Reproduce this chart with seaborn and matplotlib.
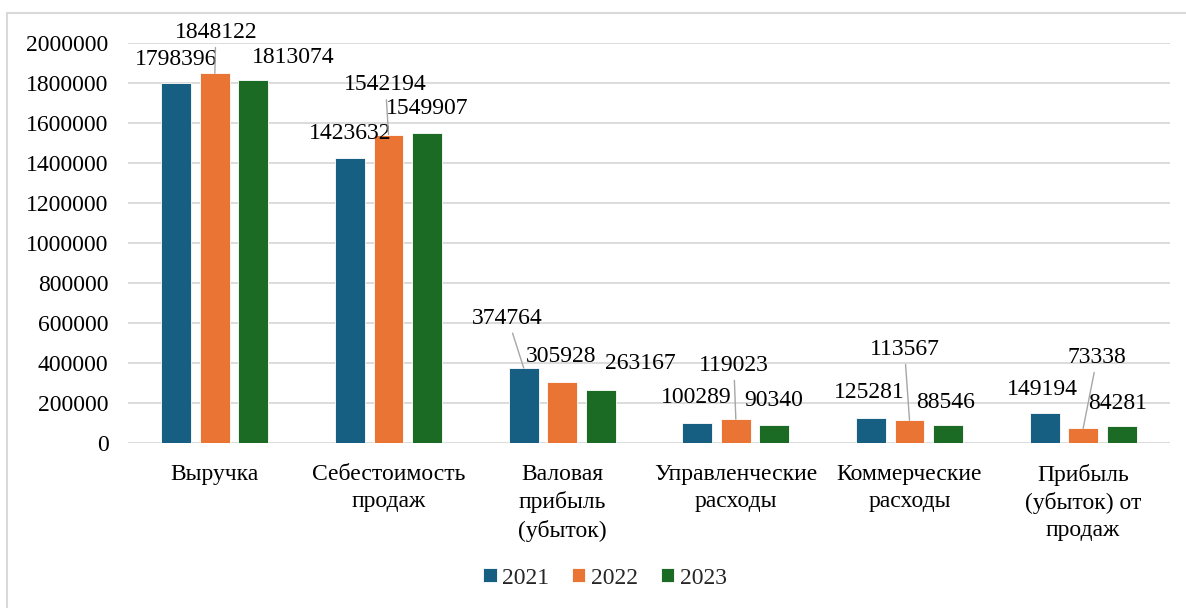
import matplotlib
matplotlib.use("Agg")
import matplotlib.pyplot as plt
from matplotlib.patches import Rectangle
import seaborn as sns
import pandas as pd

categories = ["Выручка", "Себестоимость\nпродаж", "Валовая\nприбыль\n(убыток)",
              "Управленческие\nрасходы", "Коммерческие\nрасходы", "Прибыль\n(убыток) от\nпродаж"]
years = ["2021", "2022", "2023"]
values_2021 = [1798396, 1423632, 374764, 100289, 125281, 149194]
values_2022 = [1848122, 1542194, 305928, 119023, 113567, 73338]
values_2023 = [1813074, 1549907, 263167, 90340, 88546, 84281]
yticks = list(range(0, 2000001, 200000))

# label offsets (pixels, relative to bar top centre) and leader flags
label_dx = {"2021": [0, 0, -16, -1, -2, -2],
            "2022": [1, -3, -1, -2, -5, 14],
            "2023": [40, 0, 40, -1, -2, -4]}
label_dy = {"2021": [24, 25, 50, 25, 25, 24],
            "2022": [41, 50, 25, 54, 71, 71],
            "2023": [23, 25, 27, 24, 23, 23]}
leader = {"2021": [0, 0, 1, 0, 0, 0],
          "2022": [1, 1, 0, 1, 1, 1],
          "2023": [0, 0, 0, 0, 0, 0]}

colors = ["#175E83", "#EA7434", "#1B6B25"]
FS = 17

sns.set_theme(style="white")
plt.rcParams['font.family'] = ['Liberation Serif', 'DejaVu Serif']

rows = []
for y, vals in zip(years, [values_2021, values_2022, values_2023]):
    for c, v in zip(categories, vals):
        rows.append({"cat": c, "year": y, "value": v})
df = pd.DataFrame(rows)

fig = plt.figure(figsize=(11.86, 6.08), dpi=100)
ax = fig.add_axes([128/1186, 1-443/608, 1042/1186, 400/608])

sns.barplot(data=df, x="cat", y="value", hue="year", palette=colors, order=categories,
            hue_order=years, width=0.664, gap=0.22, ax=ax, edgecolor="#FFFFFF",
            linewidth=0.6, saturation=1)

ax.set_ylim(0, 2000000)
ax.set_xlim(-0.5, len(categories) - 0.5)
ax.set_yticks(yticks)
ax.set_yticklabels([str(t) for t in yticks], fontsize=FS, color="#000000")
ax.set_xticks(range(len(categories)))
ax.set_xticklabels(categories, fontsize=FS, color="#000000", linespacing=1.38)
ax.tick_params(axis="both", length=0)
ax.tick_params(axis="x", pad=15)
ax.tick_params(axis="y", pad=14)
ax.set_xlabel("")
ax.set_ylabel("")
for s in ax.spines.values():
    s.set_visible(False)
ax.yaxis.grid(True, color="#D9D9D9", linewidth=1.3)
ax.set_axisbelow(True)

for cont, y in zip(ax.containers, years):
    for i, bar in enumerate(cont):
        xc = bar.get_x() + bar.get_width() / 2
        h = bar.get_height()
        props = None
        if leader[y][i]:
            props = dict(arrowstyle="-", color="#A6A6A6", lw=1.0, shrinkA=1, shrinkB=0)
        ax.annotate(str(int(h)), xy=(xc, h), xytext=(label_dx[y][i], label_dy[y][i]),
                    textcoords="offset pixels", ha="center", va="center", fontsize=FS,
                    color="#000000", annotation_clip=False, arrowprops=props)

leg = ax.legend(loc="center", bbox_to_anchor=(605/1186, 1-578/608), bbox_transform=fig.transFigure,
                ncol=3, frameon=False, fontsize=FS, handlelength=0.56, handleheight=0.56,
                handletextpad=0.25, columnspacing=0.95)

fig.patches.append(Rectangle((7/1186, -0.1), 1.2, 1.1 - 13/608, transform=fig.transFigure,
                             fill=False, edgecolor="#D9D9D9", linewidth=1.5, clip_on=False))

fig.savefig("out.png", dpi=100)
